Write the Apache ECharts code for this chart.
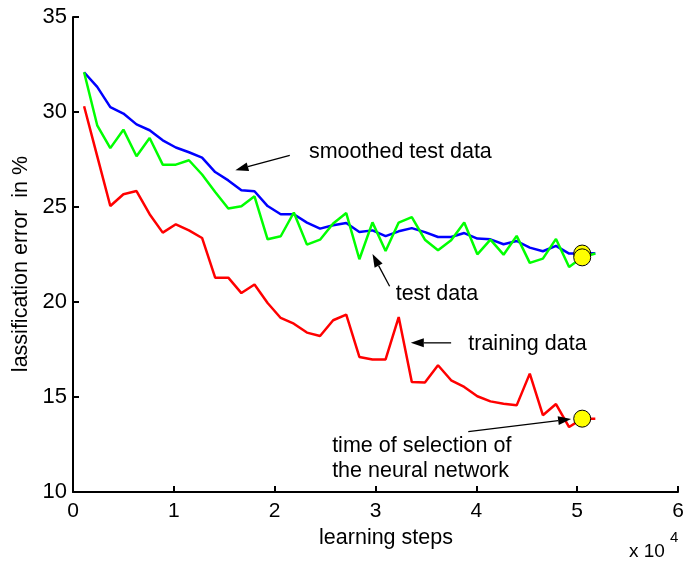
<!DOCTYPE html>
<html>
<head>
<meta charset="utf-8">
<script src="https://cdn.jsdelivr.net/npm/echarts@6/dist/echarts.min.js"></script>
<style>html,body{margin:0;padding:0;background:#fff}#c{width:688px;height:564px}</style>
</head>
<body>
<div id="c"></div>
<script>
// learning steps (in units of 10^4)
const steps = [0.11,0.24,0.37,0.50,0.63,0.76,0.89,1.02,1.15,1.28,1.41,1.54,1.67,1.80,1.93,2.06,2.19,2.32,2.45,2.58,2.71,2.84,2.97,3.10,3.23,3.36,3.49,3.62,3.75,3.88,4.01,4.14,4.27,4.40,4.53,4.66,4.79,4.92,5.05,5.18];
const smoothedTest = [32.09,31.32,30.26,29.92,29.35,29.04,28.51,28.13,27.88,27.60,26.84,26.40,25.88,25.83,25.05,24.62,24.62,24.18,23.86,24.04,24.16,23.68,23.77,23.47,23.72,23.89,23.68,23.42,23.42,23.63,23.34,23.30,23.04,23.21,22.86,22.67,22.95,22.55,22.55,22.56];
const testData = [32.09,29.30,28.10,29.07,27.67,28.63,27.23,27.23,27.46,26.71,25.79,24.92,25.04,25.56,23.30,23.46,24.71,23.02,23.28,24.13,24.68,22.25,24.19,22.68,24.18,24.47,23.28,22.72,23.25,24.18,22.51,23.28,22.49,23.48,22.06,22.28,23.32,21.84,22.35,22.55];
const trainingData = [30.30,27.68,25.05,25.67,25.84,24.62,23.65,24.09,23.77,23.37,21.28,21.28,20.47,20.92,19.95,19.16,18.86,18.39,18.21,19.04,19.34,17.11,16.97,16.98,19.21,15.79,15.76,16.67,15.88,15.53,15.04,14.77,14.65,14.56,16.23,14.04,14.63,13.42,13.86,13.86];
const selectedIndex = 38;
const xTicks = [0,1,2,3,4,5,6];
const yTicks = [10,15,20,25,30,35];

const FONT = 'Liberation Sans';
const chart = echarts.init(document.getElementById('c'), null, {renderer: 'canvas'});

function pairs(ys) { return ys.map((v, i) => [steps[i], v]); }

const option = {
  animation: false,
  backgroundColor: '#ffffff',
  grid: {left: 73, right: 10, top: 17, bottom: 72, containLabel: false},
  xAxis: {
    type: 'value', min: xTicks[0], max: xTicks[xTicks.length-1], interval: 1,
    axisLine: {onZero: false, lineStyle: {color: '#000', width: 2}},
    axisTick: {inside: true, length: 6, lineStyle: {color: '#000', width: 2}},
    axisLabel: {color: '#000', fontSize: 21, fontFamily: FONT, margin: 9},
    splitLine: {show: false}
  },
  yAxis: {
    type: 'value', min: yTicks[0], max: yTicks[yTicks.length-1], interval: 5,
    axisLine: {onZero: false, lineStyle: {color: '#000', width: 2}},
    axisTick: {inside: true, length: 6, lineStyle: {color: '#000', width: 2}},
    axisLabel: {color: '#000', fontSize: 22, fontFamily: FONT, margin: 6},
    splitLine: {show: false}
  },
  series: [
    {type: 'line', data: pairs(smoothedTest), symbol: 'none', lineStyle: {color: '#0000ff', width: 2.5}, z: 2},
    {type: 'line', data: pairs(testData), symbol: 'none', lineStyle: {color: '#00ff00', width: 2.5}, z: 3},
    {type: 'line', data: pairs(trainingData), symbol: 'none', lineStyle: {color: '#ff0000', width: 2.5}, z: 4},
    {type: 'scatter', symbolSize: 17, z: 10,
     itemStyle: {color: '#ffff00', borderColor: '#000', borderWidth: 1, opacity: 1},
     data: [
       [steps[selectedIndex], smoothedTest[selectedIndex]],
       [steps[selectedIndex], testData[selectedIndex]],
       [steps[selectedIndex], trainingData[selectedIndex]]
     ]}
  ]
};
chart.setOption(option);

// annotation anchors in data coordinates
const annotations = [
  {text: 'smoothed test data', at: [2.34, 27.88], tail: [2.15, 27.72], tip: [1.61, 26.94]},
  {text: 'test data', at: [3.20, 20.41], tail: [3.14, 20.83], tip: [2.97, 22.52]},
  {text: 'training data', at: [3.92, 17.78], tail: [3.75, 17.85], tip: [3.35, 17.85]},
  {text: 'time of selection of', at: [2.57, 12.42], tail: [3.92, 13.18], tip: [4.94, 13.84]},
  {text: 'the neural network', at: [2.57, 11.10]}
];

const TFONT = '21.5px "' + FONT + '"';
const g = [];
function px(p) { return chart.convertToPixel({gridIndex: 0}, p); }
annotations.forEach(a => {
  const p = px(a.at);
  g.push({type: 'text', x: p[0], y: p[1], z: 20,
    style: {text: a.text, fill: '#000', font: TFONT, textAlign: 'left', textVerticalAlign: 'middle'}});
  if (a.tail) {
    const t = px(a.tail), h = px(a.tip);
    const dx = h[0]-t[0], dy = h[1]-t[1], L = Math.hypot(dx, dy);
    const ux = dx/L, uy = dy/L, len = 13, hw = 4.5;
    const bx = h[0]-ux*len, by = h[1]-uy*len;
    g.push({type: 'line', z: 20, shape: {x1: t[0], y1: t[1], x2: bx, y2: by}, style: {stroke: '#000', lineWidth: 1.3}});
    g.push({type: 'polygon', z: 20, shape: {points: [[h[0], h[1]], [bx - uy*hw, by + ux*hw], [bx + uy*hw, by - ux*hw]]}, style: {fill: '#000'}});
  }
});
// axis titles
g.push({type: 'text', x: 386, y: 538, z: 20, style: {text: 'learning steps', fill: '#000', font: TFONT, textAlign: 'center', textVerticalAlign: 'middle'}});
g.push({type: 'text', x: 21, y: 264, rotation: Math.PI/2, z: 20, style: {text: 'lassification error  in %', fill: '#000', font: TFONT, textAlign: 'center', textVerticalAlign: 'middle'}});
g.push({type: 'text', x: 629, y: 552, z: 20, style: {text: 'x 10', fill: '#000', font: '19px "' + FONT + '"', textAlign: 'left', textVerticalAlign: 'middle'}});
g.push({type: 'text', x: 670, y: 538, z: 20, style: {text: '4', fill: '#000', font: '15px "' + FONT + '"', textAlign: 'left', textVerticalAlign: 'middle'}});

chart.setOption({graphic: g});
</script>
</body>
</html>
